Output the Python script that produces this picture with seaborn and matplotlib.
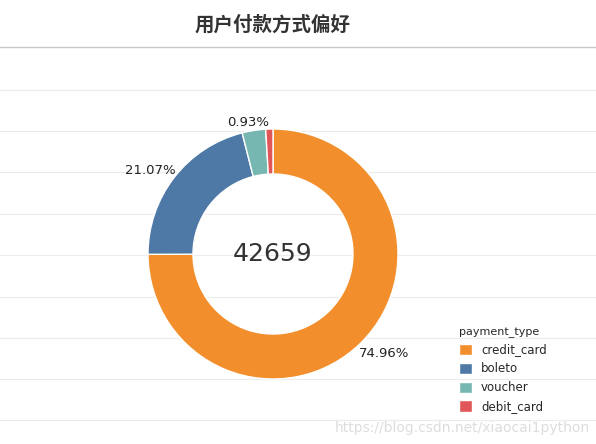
import matplotlib
matplotlib.use("Agg")
import matplotlib.pyplot as plt
import seaborn as sns
from matplotlib.patches import Patch

sns.set_theme(style="white")
plt.rcParams['font.family'] = ['DejaVu Sans', 'Noto Sans CJK SC']

categories = ["credit_card", "boleto", "voucher", "debit_card"]
percents = [74.96, 21.07, 3.04, 0.93]
total = 42659
shown_labels = ["74.96%", "21.07%", "", "0.93%"]
colors = ["#f28e2b", "#4e79a7", "#76b7b2", "#e15759"]

W, H = 596, 444
fig = plt.figure(figsize=(W/100, H/100), dpi=100)

bg = fig.add_axes([0, 0, 1, 1])
bg.set_xlim(0, W); bg.set_ylim(H, 0); bg.axis("off")
for y in [90, 131, 172, 214, 255, 297, 338, 379, 420]:
    bg.axhline(y, color="#ececec", lw=0.8)
bg.axhline(47, color="#c8c8c8", lw=1)
bg.text(273, 25, "用户付款方式偏好", ha="center", va="center", fontsize=14, fontweight="bold",
        color="#333333", family=['Noto Sans CJK SC', 'DejaVu Sans'])
bg.text(590, 428, "https://blog.csdn.net/xiaocai1python", ha="right", va="center", fontsize=10, color="#dddddd")

R = 125
cx, cy = 273, 254
ax = fig.add_axes([(cx-R)/W, 1-(cy+R)/H, (2*R)/W, (2*R)/H])
ax.pie(percents, colors=colors, startangle=90, counterclock=False, radius=1,
       wedgeprops=dict(width=(R-80)/R, edgecolor="white", linewidth=1))
ax.set_xlim(-1, 1); ax.set_ylim(-1, 1)
ax.set_aspect("equal")
ax.text(0, 0, str(total), ha="center", va="center", fontsize=18, color="#333333")

label_pos = {0: (384, 353), 1: (150, 170), 3: (248, 122)}
for i, (x, y) in label_pos.items():
    bg.text(x, y, shown_labels[i], ha="center", va="center", fontsize=9.5, color="#222222")

handles = [Patch(facecolor=c, label=l) for c, l in zip(colors, categories)]
leg = fig.legend(handles=handles, title="payment_type", loc="upper left",
                 bbox_to_anchor=(448/W, 1-316/H), frameon=False, fontsize=8.5,
                 title_fontsize=8, handlelength=1.1, handleheight=1.1, labelspacing=0.5)
leg._legend_box.align = "left"

fig.savefig("out.png", dpi=100)
